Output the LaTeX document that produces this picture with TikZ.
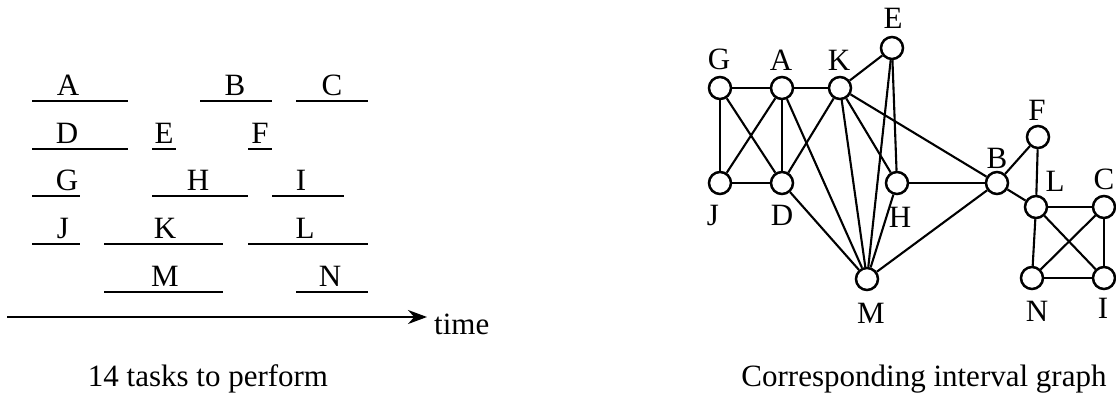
\documentclass[tikz,border=0pt]{standalone}
\usepackage{fontspec}
\setmainfont{Liberation Serif}
\usetikzlibrary{arrows.meta}
\begin{document}
\begin{tikzpicture}[x=1pt,y=-1pt,
  txt/.style={font=\fontsize{31}{37}\selectfont, inner sep=0pt, anchor=base},
  interval/.style={line width=2.8pt},
  vtx/.style={circle, draw, line width=2.5pt, minimum size=22pt, inner sep=0pt, fill=white},
  edge/.style={line width=2.1pt},
]
\useasboundingbox (0,0) rectangle (1116,394);
% ---------- intervals ----------
\draw[interval] (32,101) -- (128,101);  \node[txt] (tA) at (68,95) {A};
\draw[interval] (200,101) -- (272,101); \node[txt] (tB) at (235,95) {B};
\draw[interval] (296,101) -- (368,101); \node[txt] (tC) at (332,95) {C};
\draw[interval] (32,149) -- (128,149);  \node[txt] (tD) at (67,143) {D};
\draw[interval] (152,149) -- (176,149); \node[txt] (tE) at (164,143) {E};
\draw[interval] (248,149) -- (272,149); \node[txt] (tF) at (260,143) {F};
\draw[interval] (32,196) -- (80,196);   \node[txt] (tG) at (67,190) {G};
\draw[interval] (152,196) -- (248,196); \node[txt] (tH) at (198,190) {H};
\draw[interval] (272,196) -- (344,196); \node[txt] (tI) at (301,190) {I};
\draw[interval] (32,244) -- (80,244);   \node[txt] (tJ) at (63,238) {J};
\draw[interval] (104,244) -- (223,244); \node[txt] (tK) at (165,238) {K};
\draw[interval] (248,244) -- (368,244); \node[txt] (tL) at (305,238) {L};
\draw[interval] (104,292) -- (223,292); \node[txt] (tM) at (165,286) {M};
\draw[interval] (296,292) -- (368,292); \node[txt] (tN) at (330,286) {N};
% time axis
\coordinate (t0) at (7,317);
\coordinate (t1) at (427,317);
\node[txt, anchor=west] (time) at (434,324) {time};
\draw[line width=2.2pt, -{Stealth[length=19pt, width=14pt]}] (t0) -- (t1);
\node[txt, anchor=base] (cap1) at (208,386) {14 tasks to perform};
% ---------- graph ----------
\node[vtx] (G) at (720,88) {};
\node[vtx] (A) at (782,88) {};
\node[vtx] (K) at (840,88) {};
\node[vtx] (E) at (892,48) {};
\node[vtx] (J) at (720,183) {};
\node[vtx] (D) at (782,183) {};
\node[vtx] (H) at (897,183) {};
\node[vtx] (B) at (997,183) {};
\node[vtx] (F) at (1038,137) {};
\node[vtx] (L) at (1036,207) {};
\node[vtx] (C) at (1104,207) {};
\node[vtx] (N) at (1032,278) {};
\node[vtx] (I) at (1104,278) {};
\node[vtx] (M) at (867,279) {};
\foreach \a/\b in {G/A,A/K,K/E,G/J,G/D,A/J,A/D,J/D,K/D,A/M,D/M,K/M,K/H,K/B,E/H,E/M,H/M,H/B,B/M,B/F,B/L,F/L,L/C,L/N,L/I,C/N,C/I,N/I}
  \draw[edge] (\a) -- (\b);
% labels
\node[txt] (lG) at (719,69) {G};
\node[txt] (lA) at (781,70) {A};
\node[txt] (lK) at (839,70) {K};
\node[txt] (lE) at (893,28) {E};
\node[txt] (lF) at (1037,120) {F};
\node[txt] (lB) at (997,168) {B};
\node[txt] (lL) at (1055,191) {L};
\node[txt] (lC) at (1104,189) {C};
\node[txt] (lJ) at (713,225) {J};
\node[txt] (lD) at (782,225) {D};
\node[txt] (lH) at (900,227) {H};
\node[txt] (lM) at (871,323) {M};
\node[txt] (lN) at (1037,321) {N};
\node[txt] (lI) at (1103,318) {I};
\node[txt] (cap2) at (924,386) {Corresponding interval graph};
\end{tikzpicture}
\end{document}
